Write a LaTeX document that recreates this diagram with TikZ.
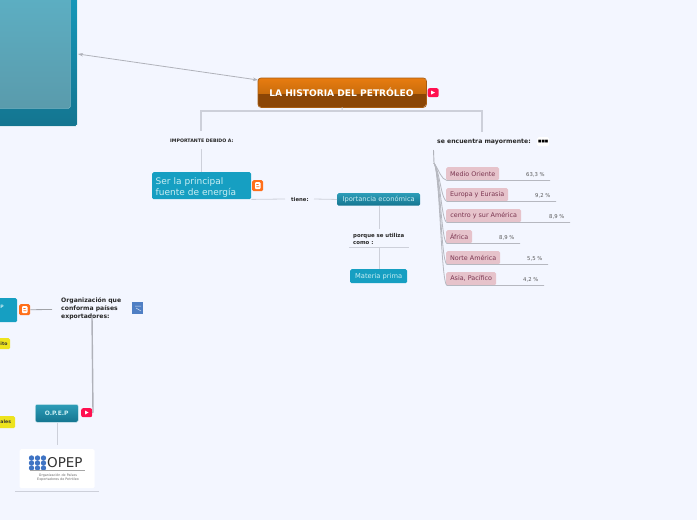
\documentclass[tikz,border=0pt]{standalone}
\usepackage{fontspec}
\setmainfont{DejaVu Sans}
\usetikzlibrary{arrows.meta,calc}
\definecolor{bgc}{HTML}{F3F6FF}
\definecolor{linec}{HTML}{CDD0DA}
\definecolor{greyl}{HTML}{B0B2BA}
\definecolor{tealA}{HTML}{2E9DB8}
\definecolor{tealB}{HTML}{147590}
\definecolor{tealF}{HTML}{169FC2}
\definecolor{tealT}{HTML}{C9EEF3}
\definecolor{pinkb}{HTML}{E6C3CB}
\definecolor{pinkt}{HTML}{7A3550}
\definecolor{ytred}{HTML}{FF1050}
\definecolor{blogor}{HTML}{FF6F1A}
\definecolor{noteyel}{HTML}{EDE31E}
\definecolor{imgblue}{HTML}{4F7FC4}
\definecolor{logoblue}{HTML}{3F74C4}
\definecolor{ctop}{HTML}{E87C10}
\definecolor{cmid}{HTML}{C86C0C}
\definecolor{cbot}{HTML}{8B4606}
\definecolor{cedge}{HTML}{A85C10}
\definecolor{innerT}{HTML}{5DB3C8}
\definecolor{innerB}{HTML}{5A9BAC}
\definecolor{innerE}{HTML}{7DB6C4}
\tikzset{
 x=1pt,y=-1pt,
 box/.style={rectangle,rounded corners=1.5pt,inner sep=0pt,anchor=north west,align=left},
 tealgrad/.style={box,top color=tealA,bottom color=tealB,text=tealT,align=center},
 tealflat/.style={box,fill=tealF,text=tealT},
 linkc/.style={draw=linec,line width=1pt},
 under/.style={draw=linec,line width=.8pt},
 lab/.style={anchor=west,inner sep=0pt,text=black!85,align=left},
 pinkbox/.style={box,fill=pinkb,text=pinkt,font=\fontsize{6.4}{7}\selectfont},
 pct/.style={anchor=west,inner sep=0pt,text=black!65,font=\fontsize{5.3}{6}\selectfont},
 yt/.style={box,fill=ytred,minimum width=11pt,minimum height=9pt,rounded corners=2pt},
 blog/.style={box,fill=blogor,minimum width=11pt,minimum height=11pt},
 note/.style={box,fill=noteyel,rounded corners=1.5pt},
 notetext/.style={anchor=west,inner sep=0pt,text=black!80,font=\bfseries\fontsize{4.6}{6}\selectfont},
 blogmark/.style={fill=white,rounded corners=1pt},
}
\begin{document}
\begin{tikzpicture}
\useasboundingbox (0,0) rectangle (697,520);
\clip (0,0) rectangle (697,520);
\fill[bgc] (0,0) rectangle (697,520);

% big box, upper left
\node[box,top color=tealF,bottom color=tealB,minimum width=107pt,minimum height=156pt,draw=white,line width=.6pt] (bigbox) at (-30,-30) {};
\node[box,top color=innerT,bottom color=innerB,minimum width=100pt,minimum height=138pt,draw=innerE,line width=.5pt] (biginner) at (-30,-30) {};

% central
\node[box,minimum width=168pt,minimum height=29pt,rounded corners=3pt] (central) at (258,78) {};
\begin{scope}
\clip[rounded corners=3pt] (258,78) rectangle (426,107);
\shade[top color=ctop,bottom color=cmid] (258,78) rectangle (426,94);
\fill[cbot] (258,94) rectangle (426,107);
\end{scope}
\draw[cedge,line width=.7pt,rounded corners=3pt] (central.north west) rectangle (central.south east);
\node[text=white,font=\bfseries\fontsize{9.1}{10}\selectfont,inner sep=0pt] (title) at (341.5,92.5) {LA HISTORIA DEL PETRÓLEO};
\node[yt] (yt1) at (427.5,88) {};
\fill[white] (431,90.5) -- (435,92.5) -- (431,94.5) -- cycle;

\draw[<->,>={Stealth[length=5pt,width=3.5pt]},draw=greyl,line width=.8pt] (78,54) -- (central.north west |- 0,80);

% left branch
\coordinate (trunk) at (342,111);
\node[lab,font=\bfseries\fontsize{4.7}{6}\selectfont] (imp) at (170,141) {IMPORTANTE DEBIDO A:};
\node[tealflat,font=\fontsize{9}{11}\selectfont,minimum width=99pt,minimum height=27pt,text width=92pt,inner xsep=3.5pt] (fuente) at (152,172) {\rule{0pt}{11pt}Ser la principal\\fuente de energía};
\draw[linkc] (central.south) -- (trunk);
\draw[linkc,line width=1.3pt] (201,131) -- (201,111) -- (482,111) -- (482,132);
\draw[linkc,line width=.8pt] (201,149) -- (fuente.north -| 201,0);
\node[blog] (blog1) at (252,180) {};
\fill[blogmark] (255,182) rectangle (260.5,189);
\fill[blogor] (256.3,184) rectangle (258.5,184.9) (256.3,186.3) rectangle (259.3,187.2);

\node[lab,font=\bfseries\fontsize{5.3}{6}\selectfont] (tiene) at (291,200) {tiene:};
\node[tealgrad,font=\fontsize{6.7}{8}\selectfont,minimum width=83pt,minimum height=12.5pt] (econ) at (337,193) {Iportancia económica};
\draw[linkc,line width=.8pt] (fuente.south east) -- (285,199);
\draw[linkc,line width=.8pt] (314,199) -- (econ.west);

\node[lab,font=\bfseries\fontsize{5.4}{7}\selectfont] (porque) at (353,238.5) {porque se utiliza\\como :};
\draw[under] (349,247) -- (409,247);
\node[tealflat,font=\fontsize{6.7}{8}\selectfont,align=center,minimum width=57pt,minimum height=14pt] (materia) at (350,269) {Materia prima};
\draw[linkc,line width=.8pt] (econ.south -| 379,0) -- (379,229);
\draw[linkc,line width=.8pt] (379,247) -- (materia.north -| 379,0);

% right branch
\node[lab,font=\bfseries\fontsize{6.15}{7}\selectfont] (se) at (437,142) {se encuentra mayormente:};
\node[box,fill=white,minimum width=12pt,minimum height=9pt,font=\fontsize{3.6}{5}\selectfont,text=black,align=center] (dots) at (537,137) {■■■};
\coordinate (fork) at (434,163);
\draw[draw=greyl,line width=.9pt] (433.5,150) -- (fork);

\foreach \nm/\txt/\w/\ytop/\ue/\val/\vx in {
 a/{Medio Oriente}/53/167/550/{63,3 \%}/526,
 b/{Europa y Eurasia}/62/188/556/{9,2 \%}/535,
 c/{centro y sur América}/75/209/570/{8,9 \%}/549,
 d/{África}/26/230/520/{8,9 \%}/499,
 e/{Norte América}/54/251/548/{5,5 \%}/527,
 f/{Asia, Pacífico}/50/272/544/{4,2 \%}/523}{
  \node[pinkbox,minimum width=\w pt,minimum height=13pt,align=center] (\nm) at (446,\ytop) {\txt};
  \node[pct] (v\nm) at (\vx,\ytop+8) {\val};
  \coordinate (u\nm) at (\ue,\ytop+13.5);
  \draw[draw=greyl!80!linec,line width=.8pt] (fork) .. controls (440,172) and (441,\ytop+12) .. (447,\ytop+13.5) -- (u\nm);
}

% lower left
\node[tealflat,minimum width=40pt,minimum height=24pt] (opart) at (-23,298) {};
\node[lab,text=tealT,font=\bfseries\fontsize{4.6}{5}\selectfont] (ppart) at (0.3,306.5) {P};
\node[blog] (blog2) at (19,304) {};
\fill[blogmark] (22,306) rectangle (27.5,313);
\fill[blogor] (23.3,308) rectangle (25.5,308.9) (23.3,310.3) rectangle (26.3,311.2);
\node[lab,font=\bfseries\fontsize{6.1}{7.8}\selectfont] (org) at (61,308.5) {Organización que\\conforma países\\exportadores:};
\draw[draw=greyl!70!gray,line width=.8pt] (blog2.east) -- (52,309.5);
\node[box,fill=imgblue,minimum width=11pt,minimum height=11.5pt,rounded corners=0pt] (img) at (132,302) {};
\draw[white!80!imgblue,line width=.5pt] (135,306) -- (141,306) (136,308) -- (141,311);

\node[tealgrad,font=\bfseries\fontsize{6}{7}\selectfont,minimum width=43pt,minimum height=18pt,rounded corners=2pt,draw=white!80!tealA,line width=.5pt] (opep) at (35,404) {O.P.E.P};
\node[yt] (yt2) at (81,408) {};
\fill[white] (85,410.5) -- (88.5,412.5) -- (85,414.5) -- cycle;
\draw[draw=greyl,line width=1.4pt] (92,316) -- (93,412) -- (yt2.east);

\node[note,minimum width=20pt,minimum height=11pt] (n1) at (-10,338) {};
\node[notetext] (n1t) at (0.3,343.5) {ito};
\node[note,minimum width=25pt,minimum height=12pt] (n2) at (-10,416) {};
\node[notetext] (n2t) at (0.3,422) {ales};

% logo
\node[box,fill=white,minimum width=75pt,minimum height=39pt] (logo) at (19.5,449) {};
\foreach \a/\b in {31.5/458,37.5/458,43.5/458,31.5/463,37.5/463,43.5/463,31.5/468,37.5/468,43.5/468}{
  \fill[logoblue] (\a,\b) circle (2.7pt);}
\node[inner sep=0pt,text=black!80,font=\fontsize{13.5}{13.5}\selectfont,anchor=west] (opeptxt) at (47,463) {OPEP};
\draw[draw=gray!70,line width=.5pt] (30,470.5) -- (85,470.5);
\node[inner sep=0pt,align=center,text=black!60,font=\fontsize{3.3}{4.6}\selectfont] (logotxt) at (58,477.5) {Organización de Países\\Exportadores de Petróleo};
\draw[under] (15,491) -- (99,491);
\draw[linkc,line width=.8pt] (opep.south -| 57,0) -- (57,445);
\end{tikzpicture}
\end{document}
